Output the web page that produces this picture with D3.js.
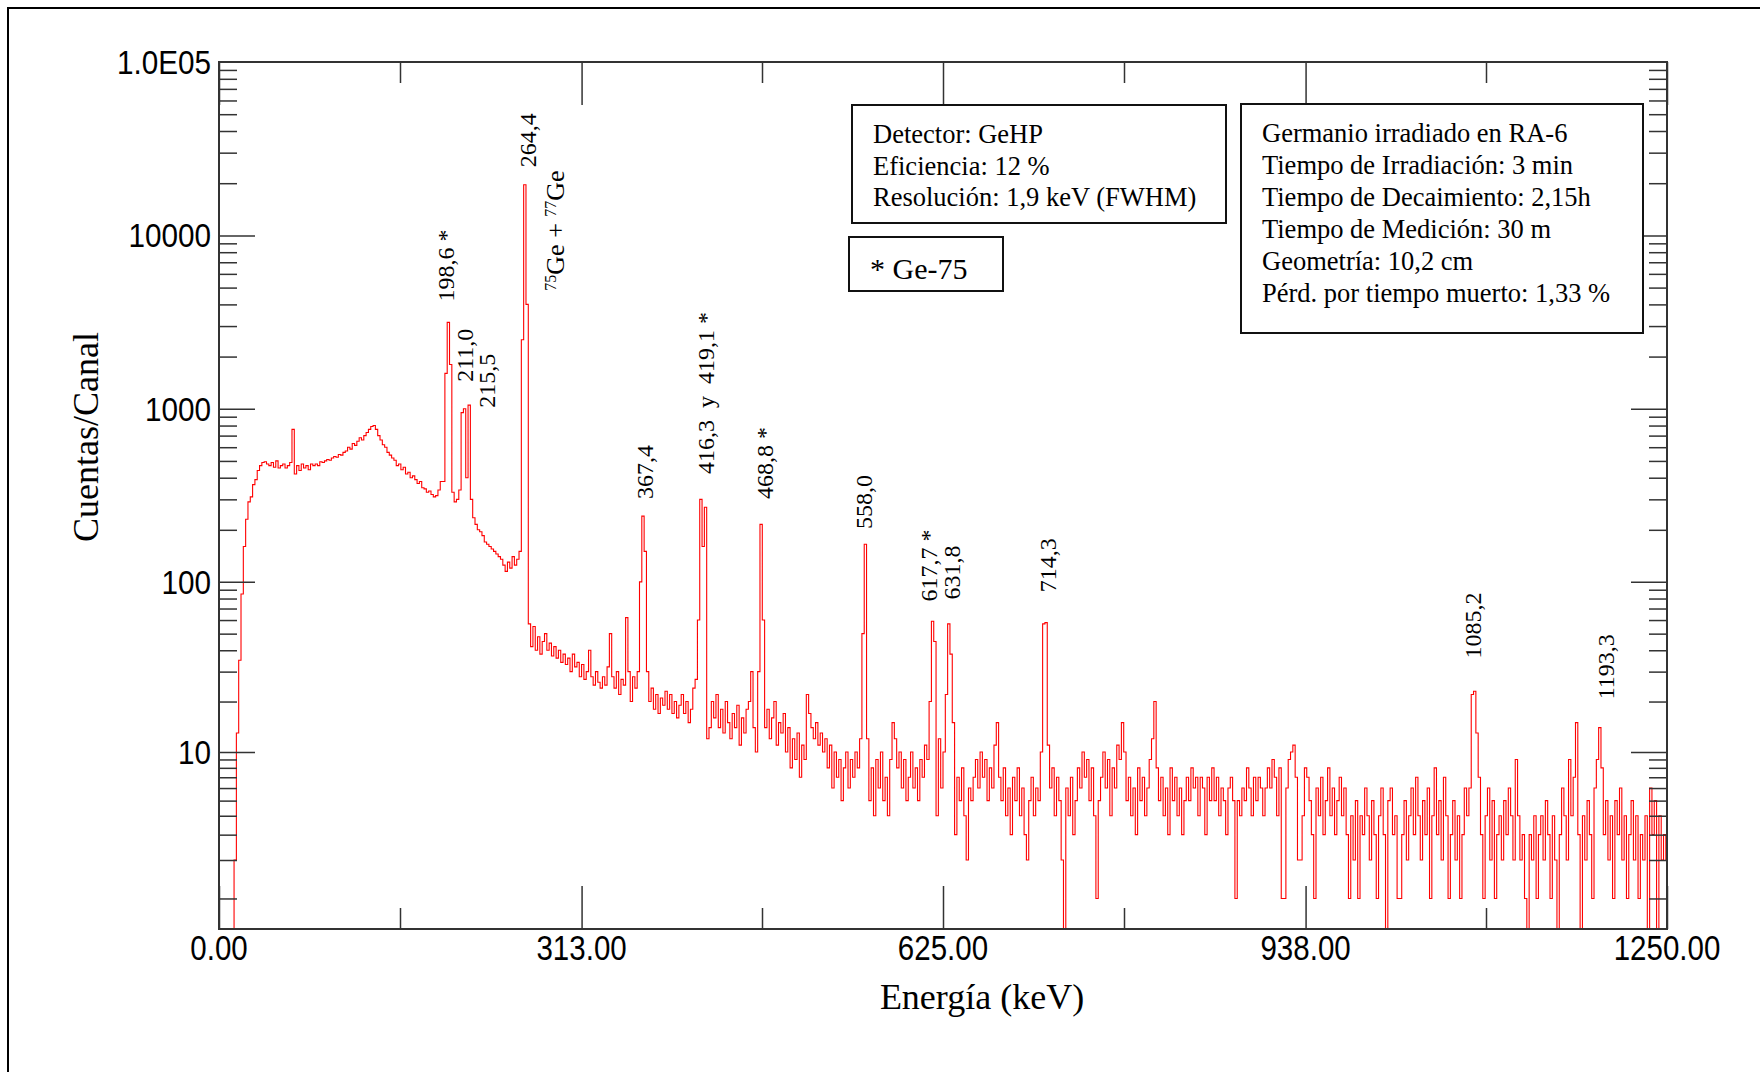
<!DOCTYPE html>
<html lang="es">

<head>
    <meta charset="UTF-8" />
    <title>Espectro germanio irradiado</title>
    <style>
        body { margin: 0; background: #fff; }
        .serif { font-family: "Liberation Serif", "Times New Roman", serif; fill: #000; }
        .sans { font-family: "Liberation Sans", Arial, sans-serif; fill: #000; }
    </style>
</head>

<body>
    <div id="container"></div>
</body>
<script src="https://cdnjs.cloudflare.com/ajax/libs/d3/7.8.5/d3.min.js"></script>
<script>
    // cuentas por canal, agrupadas de a 2 keV
    const binWidth = 2;
    // 0 - 248 keV
    const countsA = [0, 0, 0, 0, 0, 0, 0, 2, 13, 35,
        85, 160, 230, 290, 310, 365, 390, 440, 470, 490,
        495, 480, 470, 490, 460, 500, 455, 470, 480, 455,
        470, 490, 760, 420, 470, 440, 480, 455, 470, 445,
        480, 470, 480, 470, 495, 490, 500, 510, 505, 520,
        530, 525, 545, 540, 560, 570, 600, 585, 630, 615,
        650, 680, 660, 700, 730, 760, 790, 800, 760, 700,
        660, 620, 600, 560, 540, 520, 505, 470, 480, 445,
        460, 420, 430, 400, 410, 390, 370, 380, 350, 345,
        330, 335, 320, 310, 315, 340, 380, 380, 1600, 3150,
        1800, 330, 290, 300, 340, 950, 1000, 400, 1050, 300,
        235, 215, 200, 195, 185, 170, 165, 160, 155, 150,
        145, 140, 135, 125, 115];
    // 250 - 498 keV
    const countsB = [130, 120, 140, 125, 135, 150, 2500, 19600, 4000, 57,
        42, 55, 40, 48, 38, 45, 50, 40, 44, 37,
        42, 36, 40, 34, 38, 33, 36, 30, 38, 32,
        34, 28, 33, 27, 30, 40, 28, 25, 30, 26,
        24, 28, 25, 32, 50, 28, 24, 30, 22, 27,
        25, 62, 30, 20, 28, 24, 30, 100, 240, 150,
        30, 20, 24, 18, 22, 17, 21, 19, 23, 18,
        22, 17, 20, 16, 19, 22, 17, 20, 15, 18,
        24, 27, 60, 300, 160, 270, 12, 14, 20, 16,
        22, 14, 18, 13, 20, 15, 12, 17, 14, 19,
        11, 16, 13, 18, 20, 30, 14, 10, 30, 215,
        60, 14, 18, 12, 16, 20, 11, 15, 13, 17,
        10, 14, 8, 12, 9];
    // 500 - 748 keV
    const countsC = [13, 7, 11, 9, 22, 17, 14, 12, 15, 11,
        13, 10, 12, 8, 11, 6, 10, 7, 9, 5,
        8, 10, 6, 9, 7, 10, 8, 12, 50, 165,
        12, 5, 8, 4, 9, 6, 10, 5, 7, 4,
        9, 15, 12, 8, 10, 6, 9, 5, 7, 10,
        6, 8, 5, 9, 7, 11, 9, 20, 59, 45,
        4, 12, 6, 10, 22, 57, 38, 15, 3, 7,
        5, 8, 4, 2, 6, 5, 7, 9, 6, 10,
        7, 9, 5, 8, 6, 11, 15, 7, 5, 8,
        4, 6, 3, 7, 5, 8, 4, 6, 3, 2,
        5, 7, 4, 6, 5, 10, 57, 58, 11, 6,
        8, 4, 7, 5, 2, 0, 6, 4, 7, 3,
        5, 8, 6, 10, 7];
    // 750 - 998 keV
    const countsD = [9, 5, 8, 4, 1, 5, 7, 10, 6, 9,
        4, 8, 6, 11, 9, 15, 10, 5, 7, 4,
        6, 3, 8, 5, 7, 4, 6, 9, 12, 20,
        8, 5, 7, 4, 6, 3, 8, 5, 7, 4,
        6, 3, 5, 7, 5, 8, 6, 7, 4, 7,
        6, 3, 7, 5, 8, 5, 7, 4, 6, 5,
        3, 6, 7, 5, 1, 5, 4, 6, 5, 8,
        6, 4, 7, 5, 7, 6, 4, 6, 8, 6,
        9, 7, 4, 8, 1, 1, 6, 9, 10, 11,
        7, 2, 2, 4, 8, 7, 5, 3, 1, 6,
        4, 7, 3, 5, 8, 4, 6, 3, 5, 7,
        4, 6, 3, 1, 4, 2, 5, 1, 4, 3,
        6, 4, 2, 5, 3];
    // 1000 - 1250 keV
    const countsE = [1, 4, 6, 3, 0, 5, 6, 3, 4, 1,
        1, 3, 5, 2, 4, 6, 3, 7, 4, 2,
        5, 3, 6, 1, 4, 8, 3, 5, 2, 7,
        4, 1, 3, 5, 2, 4, 1, 3, 6, 4,
        6, 22, 23, 13, 7, 3, 1, 4, 6, 2,
        5, 1, 3, 4, 2, 5, 3, 6, 4, 2,
        9, 4, 2, 3, 1, 0, 3, 2, 4, 1,
        3, 4, 2, 5, 3, 1, 4, 2, 0, 3,
        6, 4, 2, 9, 4, 7, 15, 3, 0, 4,
        2, 5, 3, 1, 6, 9, 14, 8, 3, 5,
        2, 4, 1, 5, 3, 6, 2, 4, 1, 3,
        5, 2, 4, 1, 3, 2, 4, 0, 6, 3,
        5, 0, 4, 2, 3, 2];

    const xMajor = [0, 313, 625, 938, 1250];
    const xMinor = [156.25, 468.75, 781.25, 1093.75];
    const xTickLabels = ["0.00", "313.00", "625.00", "938.00", "1250.00"];
    const yLabelValues = [1e5, 1e4, 1e3, 100, 10];
    const yTickLabels = ["1.0E05", "10000", "1000", "100", "10"];
    const yMajor = [10, 100, 1000, 10000];

    // etiquetas de picos: texto, energía y altura (cuentas) donde empieza el texto
    const peakText = ["198,6 *", "211,0", "215,5", "264,4", "367,4", "416,3  y  419,1 *",
        "468,8 *", "558,0", "617,7 *", "631,8", "714,3", "1085,2", "1193,3"];
    const peakEnergy = [196, 212.4, 231.1, 266.7, 367.7, 420.4, 471, 556.8, 612.9, 632.8, 715.6, 1082.5, 1197.4];
    const peakCount = [4150, 1430, 1012, 24730, 301, 420, 301, 202, 77, 79, 87, 35.8, 20.6];

    const detectorLines = ["Detector: GeHP", "Eficiencia: 12 %", "Resolución: 1,9 keV (FWHM)"];
    const sampleLines = ["Germanio irradiado en RA-6", "Tiempo de Irradiación: 3 min",
        "Tiempo de Decaimiento: 2,15h", "Tiempo de Medición: 30 m", "Geometría: 10,2 cm",
        "Pérd. por tiempo muerto: 1,33 %"];

    const W = 1760, H = 1072;
    const plot = { left: 219, right: 1667, top: 62, bottom: 929 };

    const counts = [].concat(countsA, countsB, countsC, countsD, countsE);
    const spectrum = counts.map((c, i) => ({ e: i * binWidth, c: c }));

    const x = d3.scaleLinear().domain([0, 1250]).range([plot.left, plot.right]);
    const y = d3.scaleSymlog().constant(0.5).domain([0.5, 1e5]).range([plot.bottom, plot.top]);

    const svg = d3.select("#container").append("svg").attr("width", W).attr("height", H);

    // marco exterior
    svg.append("path").attr("d", `M8,${H} V8 H${W}`)
        .attr("fill", "none").attr("stroke", "#000").attr("stroke-width", 2);

    svg.append("clipPath").attr("id", "clip").append("rect")
        .attr("x", plot.left).attr("y", plot.top)
        .attr("width", plot.right - plot.left).attr("height", plot.bottom - plot.top);

    // espectro
    const line = d3.line().x(d => x(d.e)).y(d => y(d.c)).curve(d3.curveStep);
    svg.append("path").datum(spectrum)
        .attr("clip-path", "url(#clip)")
        .attr("d", line)
        .attr("fill", "none").attr("stroke", "#ff0000").attr("stroke-width", 1.1);

    // ticks hacia adentro en los cuatro lados
    let yMinor = [1, 2, 3, 4, 5, 6, 7, 8, 9];
    [10, 100, 1000, 10000].forEach(d => [2, 3, 4, 5, 6, 7, 8, 9].forEach(k => yMinor.push(k * d)));

    function ticks(axis, values, size, tr) {
        svg.append("g").attr("transform", tr)
            .call(axis.tickValues(values).tickSizeInner(-size).tickSizeOuter(0).tickFormat(""))
            .call(g => g.select(".domain").remove())
            .call(g => g.selectAll("line").attr("stroke", "#333").attr("stroke-width", 1.5));
    }
    ticks(d3.axisBottom(x), xMajor, 43, `translate(0,${plot.bottom})`);
    ticks(d3.axisBottom(x), xMinor, 21, `translate(0,${plot.bottom})`);
    ticks(d3.axisTop(x), xMajor, 43, `translate(0,${plot.top})`);
    ticks(d3.axisTop(x), xMinor, 21, `translate(0,${plot.top})`);
    ticks(d3.axisLeft(y), yMajor, 36, `translate(${plot.left},0)`);
    ticks(d3.axisLeft(y), yMinor, 18, `translate(${plot.left},0)`);
    ticks(d3.axisRight(y), yMajor, 36, `translate(${plot.right},0)`);
    ticks(d3.axisRight(y), yMinor, 18, `translate(${plot.right},0)`);

    svg.append("rect")
        .attr("x", plot.left).attr("y", plot.top)
        .attr("width", plot.right - plot.left).attr("height", plot.bottom - plot.top)
        .attr("fill", "none").attr("stroke", "#333").attr("stroke-width", 2);

    // etiquetas de ejes
    xMajor.forEach((v, i) => {
        svg.append("text").attr("class", "sans")
            .attr("transform", `translate(${x(v)},960) scale(0.82,1)`)
            .attr("text-anchor", "middle").style("font-size", "36px")
            .text(xTickLabels[i]);
    });
    yLabelValues.forEach((v, i) => {
        svg.append("text").attr("class", "sans")
            .attr("transform", `translate(211,${y(v)}) scale(0.9,1)`)
            .attr("text-anchor", "end").attr("dy", "0.36em").style("font-size", "33px")
            .text(yTickLabels[i]);
    });

    svg.append("text").attr("class", "serif")
        .attr("transform", "translate(98,437) rotate(-90)")
        .attr("text-anchor", "middle").style("font-size", "36px")
        .text("Cuentas/Canal");
    svg.append("text").attr("class", "serif")
        .attr("x", 982).attr("y", 1009)
        .attr("text-anchor", "middle").style("font-size", "36px")
        .text("Energía (keV)");

    // picos
    peakText.forEach((t, i) => {
        svg.append("text").attr("class", "serif")
            .attr("transform", `translate(${x(peakEnergy[i])},${y(peakCount[i])}) rotate(-90)`)
            .attr("dy", "0.33em").attr("xml:space", "preserve").style("white-space", "pre")
            .style("font-size", "24px")
            .text(t);
    });
    const ge = svg.append("text").attr("class", "serif")
        .attr("transform", `translate(${x(290)},${y(4800)}) rotate(-90)`)
        .attr("dy", "0.36em").style("font-size", "26px");
    ge.append("tspan").attr("baseline-shift", "super").style("font-size", "16px").text("75");
    ge.append("tspan").text("Ge + ");
    ge.append("tspan").attr("baseline-shift", "super").style("font-size", "16px").text("77");
    ge.append("tspan").text("Ge");

    // cuadros de información
    function box(bx, by, bw, bh) {
        svg.append("rect").attr("x", bx).attr("y", by).attr("width", bw).attr("height", bh)
            .attr("fill", "#fff").attr("stroke", "#111").attr("stroke-width", 2);
    }
    box(852, 105, 374, 118);
    detectorLines.forEach((t, i) => {
        svg.append("text").attr("class", "serif").attr("x", 873).attr("y", 143 + i * 31.5)
            .style("font-size", "26.5px").text(t);
    });
    box(849, 237, 154, 54);
    svg.append("text").attr("class", "serif").attr("x", 870).attr("y", 279)
        .style("font-size", "30px").text("* Ge-75");
    box(1241, 104, 402, 229);
    sampleLines.forEach((t, i) => {
        svg.append("text").attr("class", "serif").attr("x", 1262).attr("y", 142 + i * 32)
            .style("font-size", "26.5px").text(t);
    });
</script>

</html>
